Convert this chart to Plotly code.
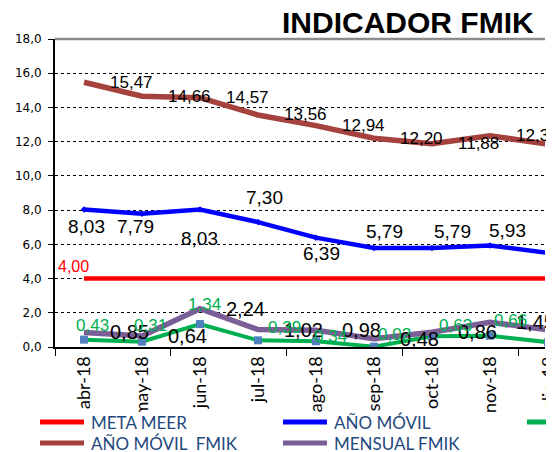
import plotly.graph_objects as go

# ---------------- data ----------------
months = ["abr-18", "may-18", "jun-18", "jul-18", "ago-18", "sep-18", "oct-18", "nov-18", "dic-18"]
meta_meer = [4.00, 4.00, 4.00, 4.00, 4.00, 4.00, 4.00, 4.00, 4.00]
ano_movil = [8.03, 7.79, 8.03, 7.30, 6.39, 5.79, 5.79, 5.93, 5.50]
mensual_meer = [0.43, 0.31, 1.34, 0.39, 0.34, 0.02, 0.63, 0.66, 0.28]
ano_movil_fmik = [15.47, 14.66, 14.57, 13.56, 12.94, 12.20, 11.88, 12.35, 11.85]
mensual_fmik = [0.85, 0.64, 2.24, 1.02, 0.98, 0.48, 0.86, 1.45, 1.00]
y_tick_values = [0, 2, 4, 6, 8, 10, 12, 14, 16, 18]

title_text = "INDICADOR FMIK"
legend_names = ["META MEER", "AÑO MÓVIL", "MENSUAL MEER", "AÑO MÓVIL  FMIK", "MENSUAL FMIK"]

# ---------------- styles / layout ----------------
W, H = 546, 452          # the picture is cropped at x = 546
ML, MR, MT, MB = 55, 1, 39, 105
PW = W - ML - MR
PH = H - MT - MB

def px_x(p):
    return (p - ML) / PW

def px_y(p):
    return (H - MB - p) / PH

C_RED = "#FF0000"
C_BLUE = "#0000FF"
C_GREEN = "#00B050"
C_BROWN = "#A5423E"
C_PURPLE = "#7A5F97"
C_MARK = "#4F81BD"
C_LEG = "#1F497D"

LABEL_FONT = "Liberation Sans, Arial, sans-serif"
XMAX = 7.95

# label offsets (pixels: dx right, dy down) for manually placed labels
blue_off = [(3, 17), (-6, 13), (0, 29), (7, -25), (6, 16), (11, -16), (21, -16), (18, -15)]
green_off = [(9, -14), (9, -16), (5, -20), (27, -13), (15, -5), (21, -12), (24, -11), (21, -15)]
red_off = [(-10, -12)]

def fmt(v):
    return f"{v:.2f}".replace(".", ",")

x = list(range(len(months)))

fig = go.Figure()

fig.add_trace(go.Scatter(x=x, y=meta_meer, mode="lines", name=legend_names[0],
                         line=dict(color=C_RED, width=4.5), showlegend=False))
fig.add_trace(go.Scatter(x=x, y=ano_movil, mode="lines+markers", name=legend_names[1],
                         line=dict(color=C_BLUE, width=4.5),
                         marker=dict(color=C_BLUE, size=5, symbol="diamond"), showlegend=False))
fig.add_trace(go.Scatter(x=x, y=mensual_meer, mode="lines+markers", name=legend_names[2],
                         line=dict(color=C_GREEN, width=4),
                         marker=dict(color=C_MARK, size=8, symbol="square"), showlegend=False))
fig.add_trace(go.Scatter(x=x, y=ano_movil_fmik, mode="lines", name=legend_names[3],
                         line=dict(color=C_BROWN, width=5.5), showlegend=False))
fig.add_trace(go.Scatter(x=x, y=mensual_fmik, mode="lines", name=legend_names[4],
                         line=dict(color=C_PURPLE, width=5.5), showlegend=False))

annotations = []
visible = [i for i in x if i <= XMAX]

# brown labels (right of point)
for i in visible:
    annotations.append(dict(x=x[i], y=ano_movil_fmik[i], xref="x", yref="y", text=fmt(ano_movil_fmik[i]),
                            showarrow=False, xanchor="left", yanchor="middle", xshift=24, yshift=0,
                            font=dict(family=LABEL_FONT, size=17, color="black")))
# purple labels (right of point)
for i in visible:
    annotations.append(dict(x=x[i], y=mensual_fmik[i], xref="x", yref="y", text=fmt(mensual_fmik[i]),
                            showarrow=False, xanchor="left", yanchor="middle", xshift=24, yshift=0,
                            font=dict(family=LABEL_FONT, size=20, color="black")))
# blue labels
for i in visible:
    dx, dy = blue_off[i]
    annotations.append(dict(x=x[i], y=ano_movil[i], xref="x", yref="y", text=fmt(ano_movil[i]),
                            showarrow=False, xanchor="center", yanchor="middle", xshift=dx, yshift=-dy,
                            font=dict(family=LABEL_FONT, size=19, color="black")))
# green labels
for i in visible:
    dx, dy = green_off[i]
    annotations.append(dict(x=x[i], y=mensual_meer[i], xref="x", yref="y", text=fmt(mensual_meer[i]),
                            showarrow=False, xanchor="center", yanchor="middle", xshift=dx, yshift=-dy,
                            font=dict(family=LABEL_FONT, size=17, color=C_GREEN)))
# red label (first point only)
for i, (dx, dy) in enumerate(red_off):
    annotations.append(dict(x=x[i], y=meta_meer[i], xref="x", yref="y", text=fmt(meta_meer[i]),
                            showarrow=False, xanchor="center", yanchor="middle", xshift=dx, yshift=-dy,
                            font=dict(family=LABEL_FONT, size=16, color=C_RED)))

# title
annotations.append(dict(x=px_x(536), y=px_y(23), xref="paper", yref="paper", text="<b>" + title_text + "</b>",
                        showarrow=False, xanchor="right", yanchor="middle",
                        font=dict(family=LABEL_FONT, size=30, color="black")))

# partially visible last month label
annotations.append(dict(x=px_x(548), y=px_y(382), xref="paper", yref="paper", text=months[-1],
                        showarrow=False, xanchor="center", yanchor="middle", textangle=-90,
                        font=dict(family="Lato", size=18, color="black")))

shapes = []
# top border of plot area
shapes.append(dict(type="line", xref="paper", yref="paper", x0=0, x1=1, y0=1, y1=1,
                   line=dict(color="#8C8C8C", width=2.5), layer="above"))
# white legend box covering label overflow
shapes.append(dict(type="rect", xref="paper", yref="paper", x0=px_x(0), x1=px_x(W + 10), y0=px_y(H + 5), y1=px_y(412),
                   fillcolor="white", line=dict(width=0), layer="above"))

# manual legend
leg_items = [
    (legend_names[0], C_RED, 40, 422),
    (legend_names[1], C_BLUE, 283, 422),
    (legend_names[2], C_GREEN, 527, 422),
    (legend_names[3], C_BROWN, 40, 443),
    (legend_names[4], C_PURPLE, 283, 443),
]
for name, col, lx, ly in leg_items:
    shapes.append(dict(type="line", xref="paper", yref="paper", x0=px_x(lx), x1=px_x(lx + 44),
                       y0=px_y(ly), y1=px_y(ly), line=dict(color=col, width=5), layer="above"))
    annotations.append(dict(x=px_x(lx + 49), y=px_y(ly), xref="paper", yref="paper", text=name,
                            showarrow=False, xanchor="left", yanchor="middle",
                            font=dict(family="Lato", size=17, color=C_LEG)))

fig.update_layout(
    width=W, height=H,
    margin=dict(l=ML, r=MR, t=MT, b=MB, pad=0),
    paper_bgcolor="white", plot_bgcolor="white",
    separators=",.",
    showlegend=False,
    annotations=annotations,
    shapes=shapes,
    xaxis=dict(
        range=[-0.5, XMAX],
        tickmode="array", tickvals=x, ticktext=months, tickangle=-90,
        ticks="", showgrid=False, zeroline=False, automargin=False,
        showline=True, linecolor="black", linewidth=2,
        tickfont=dict(family="Lato", size=18, color="black"),
        minor=dict(tickmode="array", tickvals=[-0.5, 1.5, 3.5, 5.5, 7.5], ticks="outside",
                   ticklen=7, tickwidth=1, tickcolor="black", showgrid=False),
    ),
    yaxis=dict(
        range=[0, 18], tickmode="array", tickvals=y_tick_values, tickformat=".1f",
        ticks="outside", ticklen=5, tickwidth=1, tickcolor="black",
        showgrid=True, gridcolor="black", gridwidth=1, griddash="dot",
        zeroline=False, showline=True, linecolor="black", linewidth=2, automargin=False,
        tickfont=dict(family="DejaVu Sans", size=12, color="black"),
        ticklabelstandoff=4,
    ),
)

fig.write_html("out.html", config={"displayModeBar": False},
               post_script="document.body.style.margin='0';document.body.style.padding='0';")
